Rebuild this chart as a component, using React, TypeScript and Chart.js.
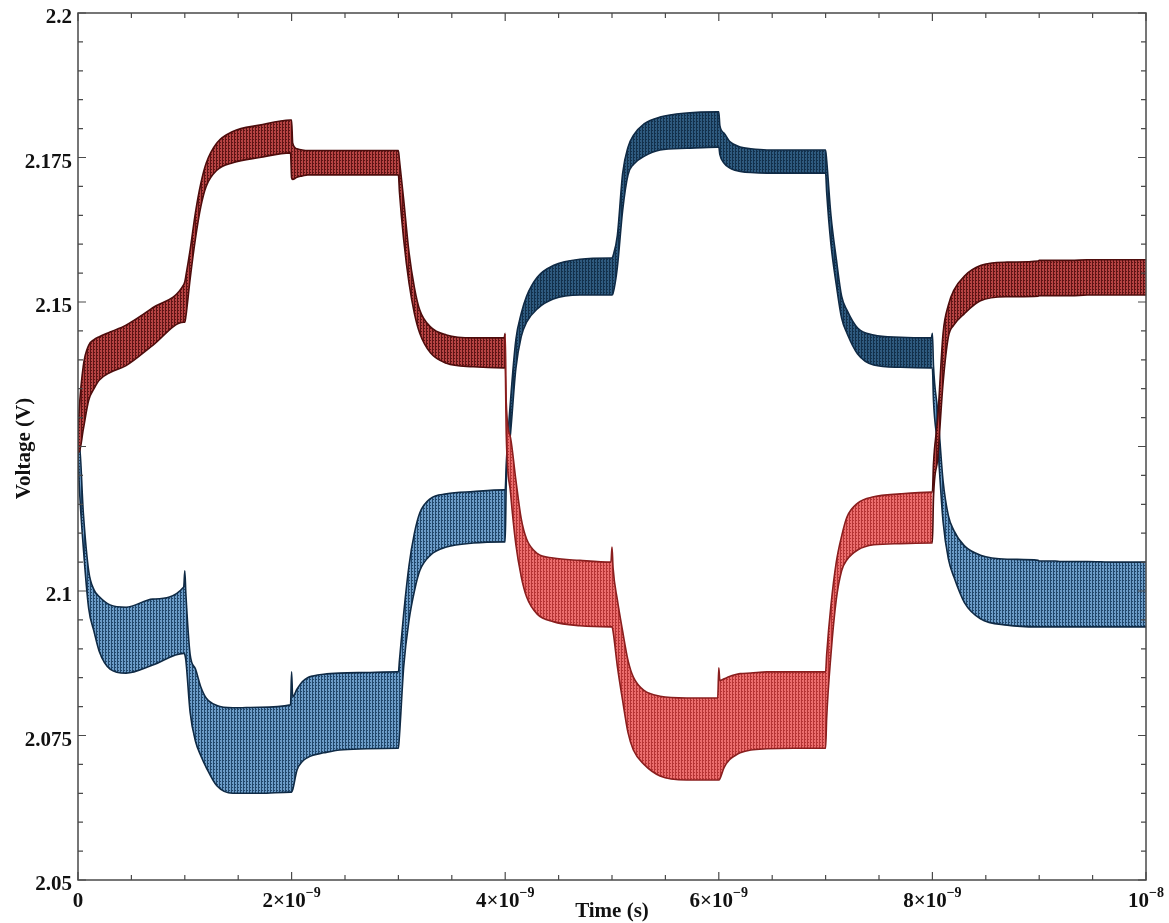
import React, { useEffect, useRef } from "react";
import { Chart, registerables } from "chart.js";

Chart.register(...registerables);

// time in ns
const timeNs = [
  0, 0.01, 0.05, 0.1, 0.15, 0.2, 0.3, 0.45, 0.7, 0.99,
  1, 1.01, 1.05, 1.1, 1.15, 1.2, 1.3, 1.45, 1.7, 1.99,
  2, 2.01, 2.05, 2.1, 2.15, 2.2, 2.3, 2.45, 2.7, 2.99,
  3, 3.01, 3.05, 3.1, 3.15, 3.2, 3.3, 3.45, 3.7, 3.99,
  4, 4.01, 4.05, 4.1, 4.15, 4.2, 4.3, 4.45, 4.7, 4.99,
  5, 5.01, 5.05, 5.1, 5.15, 5.2, 5.3, 5.45, 5.7, 5.99,
  6, 6.01, 6.05, 6.1, 6.15, 6.2, 6.3, 6.45, 6.7, 6.99,
  7, 7.01, 7.05, 7.1, 7.15, 7.2, 7.3, 7.45, 7.7, 7.99,
  8, 8.01, 8.05, 8.1, 8.15, 8.2, 8.3, 8.45, 8.7, 8.99,
  9, 9.01, 9.05, 9.1, 9.15, 9.2, 9.3, 9.45, 9.7, 9.99,
  10,
];

const redUpper = [
  2.127, 2.131, 2.139, 2.1425, 2.1435, 2.144, 2.1448, 2.146, 2.149, 2.153,
  2.1535, 2.1545, 2.159, 2.1655, 2.1705, 2.174, 2.1775, 2.1795, 2.1806, 2.1815,
  2.1815, 2.1775, 2.1765, 2.1763, 2.1762, 2.1762, 2.1762, 2.1762, 2.1762, 2.1762,
  2.1762, 2.1745, 2.1676, 2.1585, 2.1525, 2.1486, 2.1457, 2.1443, 2.1438, 2.1438,
  2.1446, 2.1325, 2.1265, 2.1192, 2.1125, 2.109, 2.1065, 2.1057, 2.1053, 2.105,
  2.1076, 2.104, 2.0985, 2.093, 2.088, 2.0851, 2.0828, 2.0818, 2.0815, 2.0815,
  2.0867, 2.0845, 2.0848, 2.0852, 2.0855, 2.0857, 2.0858, 2.086, 2.086, 2.086,
  2.086, 2.089, 2.0975, 2.105, 2.1095, 2.1128, 2.1152, 2.1163, 2.1168, 2.1171,
  2.1171, 2.122, 2.13, 2.1446, 2.1495, 2.152, 2.1545, 2.1563, 2.1569, 2.1571,
  2.1572, 2.1572, 2.1572, 2.1572, 2.1572, 2.1572, 2.1572, 2.1573, 2.1573, 2.1573,
  2.1573,
];

const redLower = [
  2.124, 2.124, 2.128, 2.133, 2.135, 2.1365, 2.1378, 2.139, 2.1425, 2.1465,
  2.1465, 2.1475, 2.154, 2.161, 2.1665, 2.17, 2.1728, 2.1741, 2.175, 2.1758,
  2.1715, 2.1712, 2.1716, 2.1718, 2.172, 2.172, 2.172, 2.172, 2.172, 2.172,
  2.172, 2.169, 2.1607, 2.1532, 2.148, 2.1446, 2.1412, 2.1394, 2.1388, 2.1386,
  2.1386, 2.127, 2.117, 2.108, 2.1025, 2.099, 2.096, 2.0947, 2.094, 2.0938,
  2.0938, 2.093, 2.087, 2.081, 2.0755, 2.0725, 2.07, 2.068, 2.0673, 2.0673,
  2.0673, 2.0675, 2.0695, 2.0708, 2.0715, 2.072, 2.0725, 2.0727, 2.0728, 2.0728,
  2.0728, 2.078, 2.089, 2.0985, 2.1035, 2.1054, 2.1071, 2.108, 2.1082, 2.1083,
  2.1083, 2.116, 2.123, 2.136, 2.144, 2.146, 2.148, 2.1502, 2.1509, 2.151,
  2.1511, 2.1511, 2.1511, 2.1511, 2.1511, 2.1511, 2.1511, 2.1512, 2.1512, 2.1512,
  2.1512,
];

const blueUpper = [
  2.126, 2.126, 2.1135, 2.1035, 2.1002, 2.099, 2.0976, 2.0972, 2.0986, 2.1007,
  2.1035, 2.0995, 2.089, 2.0865, 2.0834, 2.0815, 2.0802, 2.0798, 2.0799, 2.0803,
  2.086, 2.0817, 2.083, 2.0843, 2.085, 2.0853, 2.0856, 2.0858, 2.0859, 2.086,
  2.086, 2.088, 2.0962, 2.1045, 2.11, 2.1135, 2.116, 2.1168, 2.1172, 2.1175,
  2.1175, 2.122, 2.133, 2.1435, 2.148, 2.151, 2.1543, 2.1563, 2.1574, 2.1576,
  2.1576, 2.158, 2.1615, 2.1723, 2.1768, 2.1788, 2.1808, 2.182, 2.1827, 2.1829,
  2.1829, 2.1805, 2.1792, 2.1778, 2.1772, 2.1768, 2.1765, 2.1763, 2.1763, 2.1763,
  2.1763, 2.1745, 2.165, 2.1575, 2.151, 2.1486, 2.1455, 2.1443, 2.1439, 2.1438,
  2.1446, 2.139, 2.131, 2.119, 2.113, 2.1105, 2.1078, 2.1062, 2.1055, 2.1053,
  2.1052, 2.1052, 2.1052, 2.1052, 2.1052, 2.1051, 2.1051, 2.1051, 2.105, 2.105,
  2.105,
];

const blueLower = [
  2.124, 2.119, 2.1075, 2.097, 2.093, 2.0895, 2.0865, 2.0858, 2.0872, 2.0892,
  2.089, 2.088, 2.079, 2.074, 2.0715, 2.0695, 2.0663, 2.065, 2.065, 2.0652,
  2.0652, 2.0656, 2.069, 2.0705, 2.0712, 2.0716, 2.072, 2.0725, 2.0727, 2.0728,
  2.0728, 2.075, 2.087, 2.095, 2.1, 2.1035, 2.1062, 2.1076, 2.1083, 2.1085,
  2.1085, 2.119, 2.1273, 2.1385, 2.144, 2.1465, 2.1488, 2.1505, 2.1512, 2.1512,
  2.1512, 2.1515, 2.156, 2.1659, 2.172, 2.1738, 2.1752, 2.1763, 2.1766, 2.1768,
  2.1768, 2.1755, 2.174, 2.1732, 2.1728, 2.1726, 2.1724, 2.1723, 2.1723, 2.1723,
  2.1723, 2.169, 2.16, 2.153, 2.1472, 2.1446, 2.141, 2.1391, 2.1387, 2.1386,
  2.1386, 2.133, 2.125, 2.112, 2.1055, 2.1025, 2.098, 2.0952, 2.0941, 2.0938,
  2.0938, 2.0938, 2.0938, 2.0938, 2.0938, 2.0938, 2.0938, 2.0938, 2.0938, 2.0938,
  2.0938,
];

// axis ticks / labels
const xMajorTicks = [0, 2, 4, 6, 8, 10];
const xTickMantissa = ["0", "2×10", "4×10", "6×10", "8×10", "10"];
const xTickExponent = ["", "−9", "−9", "−9", "−9", "−8"];
const xMinorStep = 0.5;
const yMajorTicks = [2.05, 2.075, 2.1, 2.125, 2.15, 2.175, 2.2];
const yTickLabels = ["2.05", "2.075", "2.1", "", "2.15", "2.175", "2.2"];
const yMinorStep = 0.005;
const xMin = 0, xMax = 10, yMin = 2.05, yMax = 2.2;

const FONT = '"Liberation Serif", "Times New Roman", serif';

function makePattern(base: string, stripe: string): CanvasPattern | string {
  const c = document.createElement("canvas");
  c.width = 3;
  c.height = 3;
  const g = c.getContext("2d");
  if (!g) return base;
  g.fillStyle = base;
  g.fillRect(0, 0, 3, 3);
  g.fillStyle = stripe;
  g.fillRect(0, 0, 1, 3);
  g.fillRect(1, 1, 1, 1);
  const p = g.createPattern(c, "repeat");
  return p || base;
}

const framePlugin = {
  id: "frameTicks",
  afterDraw(chart: any) {
    const ctx = chart.ctx as CanvasRenderingContext2D;
    const xs = chart.scales.x;
    const ys = chart.scales.y;
    const { left, right, top, bottom } = chart.chartArea;
    ctx.save();
    ctx.strokeStyle = "#4a4a4a";
    ctx.lineWidth = 1.5;
    ctx.strokeRect(left, top, right - left, bottom - top);
    ctx.lineWidth = 1.2;
    // x ticks
    for (let v = xMin; v <= xMax + 1e-9; v += xMinorStep) {
      const px = xs.getPixelForValue(v);
      const major = xMajorTicks.some((m) => Math.abs(m - v) < 1e-6);
      const len = major ? 8 : 5;
      ctx.beginPath();
      ctx.moveTo(px, bottom);
      ctx.lineTo(px, bottom - len);
      ctx.moveTo(px, top);
      ctx.lineTo(px, top + len);
      ctx.stroke();
    }
    // y ticks
    for (let i = 0; i <= Math.round((yMax - yMin) / yMinorStep); i++) {
      const v = yMin + i * yMinorStep;
      const py = ys.getPixelForValue(v);
      const major = yMajorTicks.some((m) => Math.abs(m - v) < 1e-6);
      const len = major ? 8 : 5;
      ctx.beginPath();
      ctx.moveTo(left, py);
      ctx.lineTo(left + len, py);
      ctx.moveTo(right, py);
      ctx.lineTo(right - len, py);
      ctx.stroke();
    }
    // y labels
    ctx.fillStyle = "#111";
    ctx.font = `bold 21px ${FONT}`;
    ctx.textAlign = "right";
    ctx.textBaseline = "middle";
    yMajorTicks.forEach((v, i) => {
      if (!yTickLabels[i]) return;
      ctx.fillText(yTickLabels[i], left - 6, ys.getPixelForValue(v) + 5);
    });
    // x labels with superscript exponent
    ctx.textBaseline = "alphabetic";
    ctx.textAlign = "left";
    xMajorTicks.forEach((v, i) => {
      const px = xs.getPixelForValue(v);
      ctx.font = `bold 21px ${FONT}`;
      const wm = ctx.measureText(xTickMantissa[i]).width;
      ctx.font = `bold 14px ${FONT}`;
      const we = xTickExponent[i] ? ctx.measureText(xTickExponent[i]).width : 0;
      const x0 = px - (wm + we) / 2;
      ctx.font = `bold 21px ${FONT}`;
      ctx.fillText(xTickMantissa[i], x0, bottom + 27);
      if (xTickExponent[i]) {
        ctx.font = `bold 14px ${FONT}`;
        ctx.fillText(xTickExponent[i], x0 + wm, bottom + 17);
      }
    });
    // axis titles
    ctx.font = `bold 21px ${FONT}`;
    ctx.textAlign = "center";
    ctx.textBaseline = "alphabetic";
    ctx.fillText("Time (s)", (left + right) / 2, bottom + 37);
    ctx.save();
    ctx.translate(30, (top + bottom) / 2 + 2);
    ctx.rotate(-Math.PI / 2);
    ctx.fillText("Voltage (V)", 0, 0);
    ctx.restore();
    ctx.restore();
  },
};

export default function App() {
  const ref = useRef<HTMLCanvasElement | null>(null);
  useEffect(() => {
    if (!ref.current) return;
    const redDark = makePattern("#b84444", "#5e1414");
    const redLight = makePattern("#ec6e6e", "#b53434");
    const blueLight = makePattern("#6d9dc9", "#21476b");
    const blueDark = makePattern("#2f5b80", "#12304b");
    const pts = (arr: number[]) => timeNs.map((t, i) => ({ x: t, y: arr[i] }));
    const mid = (c: any) => (c.p0.parsed.x + c.p1.parsed.x) / 2;
    const inMid = (c: any) => mid(c) > 4.0 && mid(c) < 8.0;

    const chart = new Chart(ref.current, {
      type: "line",
      data: {
        datasets: [
          {
            label: "red upper",
            data: pts(redUpper),
            borderColor: "#4e0c0c",
            borderWidth: 1.6,
            pointRadius: 0,
            fill: false,
            segment: { borderColor: (c: any) => (inMid(c) ? "#8a1e1e" : "#4e0c0c") },
          },
          {
            label: "red lower",
            data: pts(redLower),
            borderColor: "#4e0c0c",
            borderWidth: 1.6,
            pointRadius: 0,
            fill: "-1",
            backgroundColor: redDark as any,
            segment: {
              backgroundColor: (c: any) => (inMid(c) ? redLight : redDark) as any,
              borderColor: (c: any) => (inMid(c) ? "#8a1e1e" : "#4e0c0c"),
            },
          },
          {
            label: "blue upper",
            data: pts(blueUpper),
            borderColor: "#0f2a45",
            borderWidth: 1.6,
            pointRadius: 0,
            fill: false,
          },
          {
            label: "blue lower",
            data: pts(blueLower),
            borderColor: "#0f2a45",
            borderWidth: 1.6,
            pointRadius: 0,
            fill: "-1",
            backgroundColor: blueLight as any,
            segment: {
              backgroundColor: (c: any) => (inMid(c) ? blueDark : blueLight) as any,
            },
          },
        ],
      },
      options: {
        animation: false,
        responsive: true,
        maintainAspectRatio: false,
        layout: { padding: { left: 78, right: 23, top: 13, bottom: 43 } },
        plugins: { legend: { display: false }, tooltip: { enabled: false } },
        elements: { line: { tension: 0, cubicInterpolationMode: "monotone" } },
        scales: {
          x: { type: "linear", min: xMin, max: xMax, display: false },
          y: { type: "linear", min: yMin, max: yMax, display: false },
        },
      },
      plugins: [framePlugin],
    });
    return () => chart.destroy();
  }, []);

  return (
    <div style={{ position: "fixed", left: 0, top: 0, width: 1169, height: 923, background: "#fff" }}>
      <canvas ref={ref} />
    </div>
  );
}
